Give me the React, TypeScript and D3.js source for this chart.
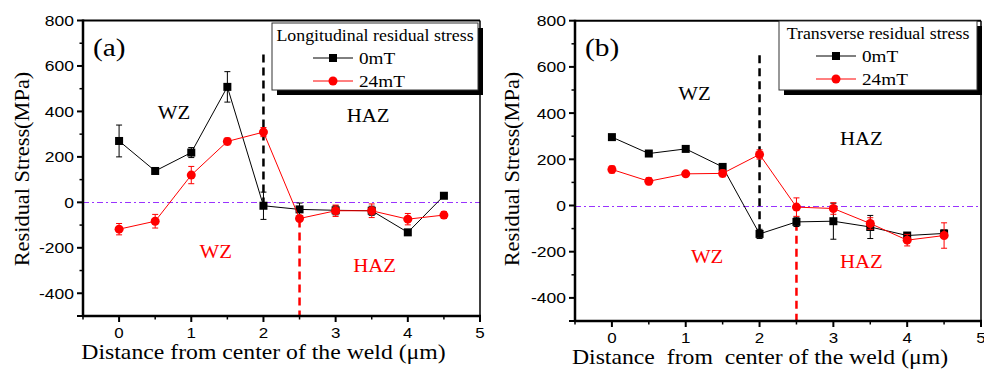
import React from 'react';
import * as d3 from 'd3';

// distance from weld centre (um)
const distances = [0, 0.5, 1, 1.5, 2, 2.5, 3, 3.5, 4, 4.5];

// (a) longitudinal residual stress (MPa)
const long0mT = [270, 138, 219, 508, -15, -31, -35, -37, -132, 29];
const long0mTErr = [70, 10, 22, 67, 60, 28, 20, 20, 8, 5];
const long24mT = [-118, -83, 120, 268, 309, -71, -37, -37, -74, -56];
const long24mTErr = [25, 30, 38, 15, 20, 8, 25, 30, 25, 15];

// (b) transverse residual stress (MPa)
const trans0mT = [296, 225, 245, 167, -123, -71, -68, -93, -130, -121];
const trans0mTErr = [10, 8, 8, 12, 20, 20, 78, 50, 12, 15];
const trans24mT = [156, 105, 137, 139, 221, -7, -13, -78, -150, -130];
const trans24mTErr = [15, 15, 10, 15, 20, 40, 25, 25, 25, 55];

const yTicks = [-400, -200, 0, 200, 400, 600, 800];
const xTicks = [0, 1, 2, 3, 4, 5];
const seriesNames = ['0mT', '24mT'];

const serif = '"Liberation Serif", "Times New Roman", serif';
const sans = '"Liberation Sans", Arial, sans-serif';
const RED = '#ff0000';
const PURPLE = '#9933ff';

type Zone = { text: string; x: number; y: number; color: string };

const panels = [
  {
    tag: '(a)',
    title: 'Longitudinal residual stress',
    xLabel: 'Distance from center of the weld (\u03bcm)',
    s0: long0mT, e0: long0mTErr, s24: long24mT, e24: long24mTErr,
    blackDash: [650, 0], redDash: [-75, -500],
    zones: [
      { text: 'WZ', x: 0.76, y: 368, color: '#000' },
      { text: 'HAZ', x: 3.45, y: 352, color: '#000' },
      { text: 'WZ', x: 1.34, y: -247, color: RED },
      { text: 'HAZ', x: 3.54, y: -306, color: RED },
    ] as Zone[],
    box: { left: 83, right: 480, top: 20.5, bottom: 316 },
    legend: { x: 272, y: 23, w: 206, h: 67 },
    yTitleX: 29,
  },
  {
    tag: '(b)',
    title: 'Transverse residual stress',
    xLabel: 'Distance  from  center of the weld (\u03bcm)',
    s0: trans0mT, e0: trans0mTErr, s24: trans24mT, e24: trans24mTErr,
    blackDash: [650, -140], redDash: [-75, -500],
    zones: [
      { text: 'WZ', x: 1.12, y: 455, color: '#000' },
      { text: 'HAZ', x: 3.38, y: 261, color: '#000' },
      { text: 'WZ', x: 1.29, y: -249, color: RED },
      { text: 'HAZ', x: 3.38, y: -270, color: RED },
    ] as Zone[],
    box: { left: 575, right: 981, top: 20.7, bottom: 321 },
    legend: { x: 779, y: 21, w: 198, h: 69 },
    yTitleX: 519,
  },
];

// the source picture is a little stretched sideways
const SX = 1.13;

function T({ x, y, size, family, fill = '#000', anchor = 'start', children }: any) {
  return (
    <text
      transform={`translate(${x},${y}) scale(${SX},1)`}
      fontSize={size}
      fontFamily={family}
      fill={fill}
      textAnchor={anchor}
      style={{ whiteSpace: 'pre' }}
    >
      {children}
    </text>
  );
}

function Panel({ p }: any) {
  const { left, right, top, bottom } = p.box;
  const x = d3.scaleLinear().domain([-0.5, 5]).range([left, right]);
  const y = d3.scaleLinear().domain([-500, 800]).range([bottom, top]);

  const line = d3.line<number>()
    .x((_, i) => x(distances[i]))
    .y((d) => y(d));

  const minorY = d3.range(-500, 801, 100).filter((v) => v % 200 !== 0);
  const minorX = d3.range(-0.5, 5, 1);

  const errBars = (vals: number[], errs: number[], color: string) =>
    vals.map((v, i) => {
      const cx = x(distances[i]);
      return (
        <g key={i} stroke={color} strokeWidth={1}>
          <line x1={cx} x2={cx} y1={y(v - errs[i])} y2={y(v + errs[i])} />
          <line x1={cx - 3} x2={cx + 3} y1={y(v - errs[i])} y2={y(v - errs[i])} />
          <line x1={cx - 3} x2={cx + 3} y1={y(v + errs[i])} y2={y(v + errs[i])} />
        </g>
      );
    });

  const lg = p.legend;
  const zeroY = Math.round(y(0)) + 0.5;

  return (
    <g>
      {/* zero line */}
      <line x1={left} x2={right} y1={zeroY} y2={zeroY} stroke={PURPLE} strokeWidth={1} strokeDasharray="6,3,2,3" />

      {/* zone boundaries */}
      <line x1={x(2)} x2={x(2)} y1={y(p.blackDash[0])} y2={y(p.blackDash[1])} stroke="#000" strokeWidth={2.5} strokeDasharray="8,5" />
      <line x1={x(2.5)} x2={x(2.5)} y1={y(p.redDash[0])} y2={y(p.redDash[1])} stroke={RED} strokeWidth={2.5} strokeDasharray="8,5" />

      {/* series */}
      <path d={line(p.s0) as string} fill="none" stroke="#000" strokeWidth={1} />
      {errBars(p.s0, p.e0, '#000')}
      {p.s0.map((v: number, i: number) => (
        <rect key={i} x={x(distances[i]) - 4} y={y(v) - 4} width={8} height={8} fill="#000" />
      ))}
      <path d={line(p.s24) as string} fill="none" stroke={RED} strokeWidth={1} />
      {errBars(p.s24, p.e24, RED)}
      {p.s24.map((v: number, i: number) => (
        <circle key={i} cx={x(distances[i])} cy={y(v)} r={4.5} fill={RED} />
      ))}

      {/* frame */}
      <line x1={left} x2={right} y1={top} y2={top} stroke="#000" strokeWidth={2} />
      <line x1={right} x2={right} y1={top} y2={bottom} stroke="#000" strokeWidth={1.5} />
      <line x1={left} x2={left} y1={top - 1} y2={bottom + 1} stroke="#000" strokeWidth={2.5} />
      <line x1={left - 1} x2={right + 1} y1={bottom} y2={bottom} stroke="#000" strokeWidth={2.5} />

      {/* y ticks */}
      {[-500, ...yTicks].map((v) => (
        <line key={v} x1={left - 6} x2={left} y1={y(v)} y2={y(v)} stroke="#000" strokeWidth={2} />
      ))}
      {minorY.map((v) => (
        <line key={v} x1={left - 3.5} x2={left} y1={y(v)} y2={y(v)} stroke="#000" strokeWidth={1.5} />
      ))}
      {yTicks.map((v) => (
        <T key={v} x={left - 9} y={y(v) + 5.5} size={15.5} family={sans} anchor="end">{v}</T>
      ))}

      {/* x ticks */}
      {xTicks.map((v) => (
        <line key={v} x1={x(v)} x2={x(v)} y1={bottom} y2={bottom + 6} stroke="#000" strokeWidth={2} />
      ))}
      {minorX.map((v) => (
        <line key={v} x1={x(v)} x2={x(v)} y1={bottom} y2={bottom + 3.5} stroke="#000" strokeWidth={1.5} />
      ))}
      {xTicks.map((v) => (
        <T key={v} x={x(v)} y={bottom + 22} size={15} family={sans} anchor="middle">{v}</T>
      ))}

      {/* axis titles */}
      <T x={(left + right) / 2 - 18} y={bottom + 43} size={21} family={serif} anchor="middle">{p.xLabel}</T>
      <text
        transform={`translate(${p.yTitleX},169) rotate(-90) scale(1.12,1.1)`}
        fontSize={20}
        fontFamily={serif}
        textAnchor="middle"
      >
        Residual Stress(MPa)
      </text>

      {/* panel tag */}
      <T x={left + 10} y={top + 35} size={26} family={serif}>{p.tag}</T>

      {/* zone labels */}
      {p.zones.map((z: Zone, i: number) => (
        <T key={i} x={x(z.x)} y={y(z.y)} size={18.5} family={serif} fill={z.color} anchor="middle">{z.text}</T>
      ))}

      {/* legend */}
      <rect x={lg.x + 5} y={lg.y + 5} width={lg.w} height={lg.h} fill="#000" />
      <rect x={lg.x} y={lg.y} width={lg.w} height={lg.h} fill="#fff" stroke="#333" strokeWidth={1} />
      <T x={lg.x + lg.w / 2} y={lg.y + 18} size={15.8} family={serif} anchor="middle">{p.title}</T>
      {seriesNames.map((name, i) => {
        const ly = lg.y + 35 + i * 23;
        const lx = lg.x + lg.w / 2 - 62;
        const color = i === 0 ? '#000' : RED;
        return (
          <g key={name}>
            <line x1={lx} x2={lx + 40} y1={ly} y2={ly} stroke={color} strokeWidth={1} />
            {i === 0
              ? <rect x={lx + 16} y={ly - 4} width={8} height={8} fill="#000" />
              : <circle cx={lx + 20} cy={ly} r={4.5} fill={RED} />}
            <T x={lx + 46} y={ly + 6} size={17} family={serif}>{name}</T>
          </g>
        );
      })}
    </g>
  );
}

export default function App() {
  return (
    <svg
      width={984}
      height={373}
      style={{ position: 'absolute', left: 0, top: 0, background: '#fff' }}
    >
      <rect width={984} height={373} fill="#fff" />
      {panels.map((p) => (
        <Panel key={p.tag} p={p} />
      ))}
    </svg>
  );
}
